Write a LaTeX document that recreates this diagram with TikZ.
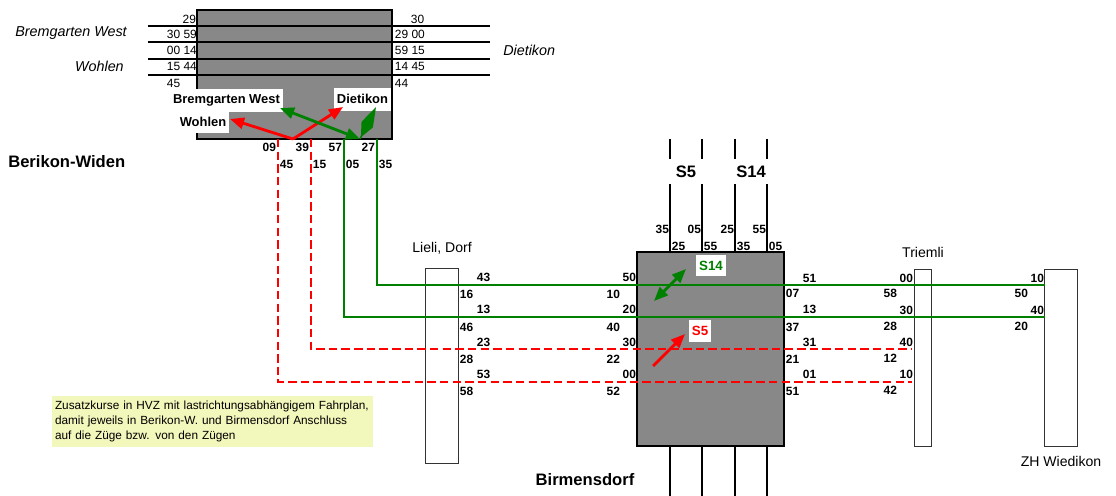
\documentclass[tikz,border=0pt]{standalone}
\usepackage{fontspec}
\setmainfont{Liberation Sans}
\usetikzlibrary{arrows.meta}
\definecolor{linegreen}{RGB}{0,128,0}
\definecolor{linered}{RGB}{255,0,0}
\definecolor{hubgray}{RGB}{136,136,136}
\definecolor{noteyellow}{RGB}{242,247,187}
\def\pxu{0.025cm}

\begin{document}
\begin{tikzpicture}[x=0.025cm, y=-0.025cm,
    num/.style={font=\fontsize{8.5}{10}\selectfont, inner sep=0.5pt},
    bnum/.style={font=\fontsize{8.5}{10}\selectfont\bfseries, inner sep=0.5pt},
    dir/.style={font=\fontsize{10.2}{12}\selectfont\itshape, inner sep=0pt},
    tag/.style={fill=white, font=\fontsize{9.2}{11}\selectfont\bfseries, inner xsep=2pt, minimum height=23*\pxu},
    stn/.style={font=\fontsize{10}{12}\selectfont, inner sep=0pt},
    bigname/.style={font=\fontsize{11.8}{14}\selectfont\bfseries, inner sep=0pt},
    halt/.style={draw=black!80, line width=0.6pt, fill=white},
    hub/.style={draw=black, line width=0.8pt, fill=hubgray},
    track/.style={line width=1.4pt},
    gline/.style={linegreen, line width=1.6pt},
    rline/.style={linered, line width=1.5pt, dash pattern=on 6pt off 3pt},
    garrow/.style={linegreen, line width=2pt, {Triangle[length=10pt,width=8pt]}-{Triangle[length=10pt,width=8pt]}},
    rarrow/.style={linered, line width=2pt, -{Triangle[length=10pt,width=8pt]}},
    note/.style={fill=noteyellow, font=\fontsize{8.4}{10.7}\selectfont, align=left, text width=315*\pxu, minimum height=49*\pxu, inner xsep=3*\pxu},
]
\useasboundingbox (0,0) rectangle (1116,495);

% Berikon-Widen
\node[hub, minimum width=195*\pxu, minimum height=129*\pxu] (bw) at (294.5,74.5) {};
\coordinate (h1a) at (148,26); \coordinate (h1b) at (490,26);
\coordinate (h2a) at (148,42); \coordinate (h2b) at (490,42);
\coordinate (h3a) at (148,59); \coordinate (h3b) at (490,59);
\coordinate (h4a) at (148,75); \coordinate (h4b) at (490,75);
\draw[track] (h1a) -- (h1b);
\draw[track] (h2a) -- (h2b);
\draw[track] (h3a) -- (h3b);
\draw[track] (h4a) -- (h4b);

\node[num, anchor=east] (bwl1) at (197,19) {29};
\node[num, anchor=west] (bwl2) at (166,34) {30 59};
\node[num, anchor=west] (bwl3) at (166,50) {00 14};
\node[num, anchor=west] (bwl4) at (166,66) {15 44};
\node[num, anchor=west] (bwl5) at (166,83) {45};
\node[num, anchor=west] (bwr1) at (410,19) {30};
\node[num, anchor=west] (bwr2) at (394,34) {29 00};
\node[num, anchor=west] (bwr3) at (394,50) {59 15};
\node[num, anchor=west] (bwr4) at (394,66) {14 45};
\node[num, anchor=west] (bwr5) at (394,83) {44};

\node[dir, anchor=east] (dirbw) at (127,33) {Bremgarten West};
\node[dir, anchor=east] (dirwo) at (124,66) {Wohlen};
\node[dir, anchor=west] (dirdi) at (503,50) {Dietikon};

\node[tag] (tagbw) at (226.5,100) {Bremgarten West};
\node[tag] (tagdi) at (362.5,99) {Dietikon};
\node[tag] (tagwo) at (203,121.5) {Wohlen};

\coordinate (fork) at (293,139);
\coordinate (wotip) at (230,119);
\coordinate (ditip) at (343,107);
\draw[rarrow] (fork) -- (wotip);
\draw[rarrow] (fork) -- (ditip);
\coordinate (gfork) at (360,139);
\coordinate (bwtip) at (280,108);
\coordinate (gditip) at (376,107);
\draw[garrow] (bwtip) -- (gfork);
\draw[linegreen, line width=1pt, -{Kite[length=24pt,width=9pt,inset=10pt]}] (gfork) -- (gditip);

\node[bnum, anchor=east] (bw09) at (277,147) {09};
\node[bnum, anchor=west] (bw45) at (279,164) {45};
\node[bnum, anchor=east] (bw39) at (310,147) {39};
\node[bnum, anchor=west] (bw15) at (312,164) {15};
\node[bnum, anchor=east] (bw57) at (343,147) {57};
\node[bnum, anchor=west] (bw05) at (345,164) {05};
\node[bnum, anchor=east] (bw27) at (376,147) {27};
\node[bnum, anchor=west] (bw35) at (378,164) {35};
\node[bigname, anchor=west] (bwname) at (8,162) {Berikon-Widen};

% stations along the line
\node[halt, minimum width=33*\pxu, minimum height=195*\pxu] (lieli) at (441.5,365.5) {};
\node[stn] (lieliname) at (442,248) {Lieli, Dorf};
\node[hub, minimum width=147*\pxu, minimum height=194*\pxu] (birm) at (710.5,349) {};
\node[bigname] (birmname) at (585,480) {Birmensdorf};
\node[halt, minimum width=17*\pxu, minimum height=177*\pxu] (triemli) at (922.5,357.5) {};
\node[stn] (triemliname) at (923,252) {Triemli};
\node[halt, minimum width=33*\pxu, minimum height=177*\pxu] (zhw) at (1060.5,357.5) {};
\node[stn] (zhwname) at (1061,461) {ZH Wiedikon};

% S5 / S14 tracks at Birmensdorf
\coordinate (t1) at (670,139); \coordinate (t2) at (702,139);
\coordinate (t3) at (735,139); \coordinate (t4) at (767,139);
\draw[track] (t1) -- ++(0,20) ++(0,25) -- (t1 |- birm.north);
\draw[track] (t2) -- ++(0,20) ++(0,25) -- (t2 |- birm.north);
\draw[track] (t3) -- ++(0,20) ++(0,25) -- (t3 |- birm.north);
\draw[track] (t4) -- ++(0,20) ++(0,25) -- (t4 |- birm.north);
\draw[track] (t1 |- birm.south) -- ++(0,49);
\draw[track] (t2 |- birm.south) -- ++(0,49);
\draw[track] (t3 |- birm.south) -- ++(0,49);
\draw[track] (t4 |- birm.south) -- ++(0,49);
\node[bigname] (s5) at (686,172) {S5};
\node[bigname] (s14) at (751,172) {S14};
\node[bnum, anchor=east] (t1a) at (670,229) {35};
\node[bnum, anchor=west] (t1b) at (671,246) {25};
\node[bnum, anchor=east] (t2a) at (702,229) {05};
\node[bnum, anchor=west] (t2b) at (703,246) {55};
\node[bnum, anchor=east] (t3a) at (735,229) {25};
\node[bnum, anchor=west] (t3b) at (736,246) {35};
\node[bnum, anchor=east] (t4a) at (767,229) {55};
\node[bnum, anchor=west] (t4b) at (768,246) {05};

% bus lines
\coordinate (g1a) at (377,139); \coordinate (g1b) at (1045,285);
\coordinate (g2a) at (344,139); \coordinate (g2b) at (1045,317);
\coordinate (r1a) at (311,139); \coordinate (r1b) at (912,349);
\coordinate (r2a) at (278,139); \coordinate (r2b) at (912,382);
\draw[gline] (g1a) |- (g1b);
\draw[gline] (g2a) |- (g2b);
\draw[rline] (r1a) |- (r1b);
\draw[rline] (r2a) |- (r2b);

\node[tag, text=linegreen, font=\fontsize{9.5}{11}\selectfont\bfseries, minimum height=21*\pxu] (tags14) at (711,265.5) {S14};
\node[tag, text=linered, font=\fontsize{9.5}{11}\selectfont\bfseries, minimum height=22*\pxu] (tags5) at (700,331) {S5};
\coordinate (bga) at (654,301); \coordinate (bgb) at (686,269);
\coordinate (bra) at (653,366); \coordinate (brb) at (685,334);
\draw[garrow] (bga) -- (bgb);
\draw[rarrow] (bra) -- (brb);

% times at Lieli, Dorf
\node[bnum, anchor=west] (li1) at (476,277) {43};
\node[bnum, anchor=west] (li2) at (459,294) {16};
\node[bnum, anchor=west] (li3) at (476,309) {13};
\node[bnum, anchor=west] (li4) at (459,327) {46};
\node[bnum, anchor=west] (li5) at (476,342) {23};
\node[bnum, anchor=west] (li6) at (459,359) {28};
\node[bnum, anchor=west] (li7) at (476,374) {53};
\node[bnum, anchor=west] (li8) at (459,391) {58};
% times at Birmensdorf
\node[bnum, anchor=east] (bl1) at (637,277) {50};
\node[bnum, anchor=east] (bl2) at (621,294) {10};
\node[bnum, anchor=east] (bl3) at (637,309) {20};
\node[bnum, anchor=east] (bl4) at (621,327) {40};
\node[bnum, anchor=east] (bl5) at (637,342) {30};
\node[bnum, anchor=east] (bl6) at (621,359) {22};
\node[bnum, anchor=east] (bl7) at (637,374) {00};
\node[bnum, anchor=east] (bl8) at (621,391) {52};
\node[bnum, anchor=west] (br1) at (802,278) {51};
\node[bnum, anchor=west] (br2) at (785,293) {07};
\node[bnum, anchor=west] (br3) at (802,309) {13};
\node[bnum, anchor=west] (br4) at (785,327) {37};
\node[bnum, anchor=west] (br5) at (802,342) {31};
\node[bnum, anchor=west] (br6) at (785,359) {21};
\node[bnum, anchor=west] (br7) at (802,374) {01};
\node[bnum, anchor=west] (br8) at (785,391) {51};
% times at Triemli
\node[bnum, anchor=east] (tr1) at (914,278) {00};
\node[bnum, anchor=east] (tr2) at (898,293) {58};
\node[bnum, anchor=east] (tr3) at (914,310) {30};
\node[bnum, anchor=east] (tr4) at (898,326) {28};
\node[bnum, anchor=east] (tr5) at (914,342) {40};
\node[bnum, anchor=east] (tr6) at (898,358) {12};
\node[bnum, anchor=east] (tr7) at (914,374) {10};
\node[bnum, anchor=east] (tr8) at (898,390) {42};
% times at ZH Wiedikon
\node[bnum, anchor=east] (zh1) at (1045,278) {10};
\node[bnum, anchor=east] (zh2) at (1029,293) {50};
\node[bnum, anchor=east] (zh3) at (1045,310) {40};
\node[bnum, anchor=east] (zh4) at (1029,326) {20};

\node[note] (hvz) at (212.5,421.5) {Zusatzkurse in HVZ mit lastrichtungsabhängigem Fahrplan,\\damit jeweils in Berikon-W. und Birmensdorf Anschluss\\auf die Züge bzw. von den Zügen};
\end{tikzpicture}
\end{document}
